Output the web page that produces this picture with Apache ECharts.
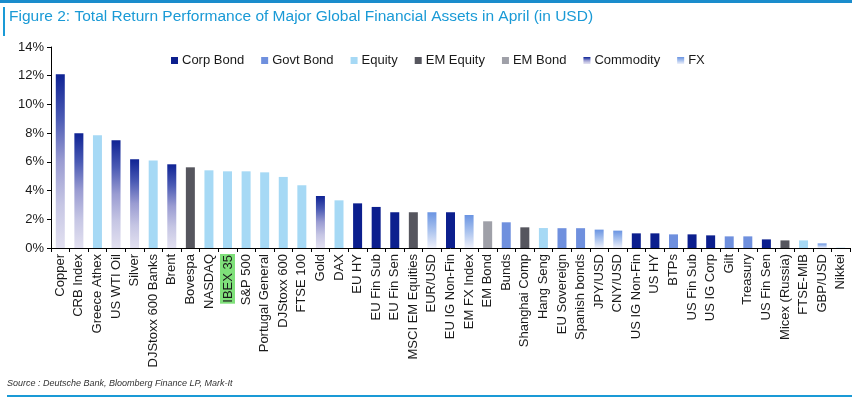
<!DOCTYPE html>
<html>
<head>
<meta charset="utf-8">
<script src="https://cdn.jsdelivr.net/npm/echarts@6/dist/echarts.min.js"></script>
<style>
html,body{margin:0;padding:0;background:#fff;}
#c{width:862px;height:399px;}
</style>
</head>
<body>
<div id="c"></div>
<script>
var titleText = 'Figure 2: Total Return Performance of Major Global Financial Assets in April (in USD)';
var sourceText = 'Source : Deutsche Bank, Bloomberg Finance LP, Mark-It';

var categories = ['Copper','CRB Index','Greece Athex','US WTI Oil','Silver','DJStoxx 600 Banks','Brent','Bovespa','NASDAQ','IBEX 35','S&P 500','Portugal General','DJStoxx 600','FTSE 100','Gold','DAX','EU HY','EU Fin Sub','EU Fin Sen','MSCI EM Equities','EUR/USD','EU IG Non-Fin','EM FX Index','EM Bond','Bunds','Shanghai Comp','Hang Seng','EU Sovereign','Spanish bonds','JPY/USD','CNY/USD','US IG Non-Fin','US HY','BTPs','US Fin Sub','US IG Corp','Gilt','Treasury','US Fin Sen','Micex (Russia)','FTSE-MIB','GBP/USD','Nikkei'];

var values = [12.1, 8.0, 7.85, 7.5, 6.18, 6.1, 5.83, 5.62, 5.41, 5.34, 5.34, 5.27, 4.95, 4.37, 3.62, 3.32, 3.11, 2.86, 2.49, 2.49, 2.49, 2.49, 2.30, 1.86, 1.79, 1.44, 1.39, 1.38, 1.38, 1.28, 1.21, 1.02, 1.02, 0.95, 0.95, 0.88, 0.81, 0.81, 0.60, 0.53, 0.53, 0.32, 0.02];

var assetTypes = ['Commodity','Commodity','Equity','Commodity','Commodity','Equity','Commodity','EM Equity','Equity','Equity','Equity','Equity','Equity','Equity','Commodity','Equity','Corp Bond','Corp Bond','Corp Bond','EM Equity','FX','Corp Bond','FX','EM Bond','Govt Bond','EM Equity','Equity','Govt Bond','Govt Bond','FX','FX','Corp Bond','Corp Bond','Govt Bond','Corp Bond','Corp Bond','Govt Bond','Govt Bond','Corp Bond','EM Equity','Equity','FX','Equity'];

var seriesNames = ['Corp Bond','Govt Bond','Equity','EM Equity','EM Bond','Commodity','FX'];

var yTicks = [0, 2, 4, 6, 8, 10, 12, 14];

var highlighted = 'IBEX 35';

function grad(stops){
  return {type:'linear', x:0, y:0, x2:0, y2:1, colorStops: stops.map(function(s){return {offset:s[0], color:s[1]};})};
}
var seriesColors = {
  'Corp Bond': '#0c1f8e',
  'Govt Bond': '#6f90de',
  'Equity': '#a6d9f5',
  'EM Equity': '#56565e',
  'EM Bond': '#9fa0a8',
  'Commodity': grad([[0,'#0f2394'],[0.25,'#4a5ab4'],[0.5,'#9a9cd2'],[0.75,'#c6c6e4'],[1,'#e2e0f0']]),
  'FX': grad([[0,'#6a94e2'],[0.5,'#a9c2ee'],[1,'#eef0fa']])
};

var series = seriesNames.map(function(name){
  return {
    name: name,
    type: 'bar',
    stack: 'all',
    barWidth: 9,
    itemStyle: {color: seriesColors[name]},
    data: values.map(function(v, i){ return assetTypes[i] === name ? v : '-'; })
  };
});

var chart = echarts.init(document.getElementById('c'), null, {renderer:'canvas'});
chart.setOption({
  animation: false,
  backgroundColor: '#ffffff',
  textStyle: {fontFamily: 'Liberation Sans, Arial, sans-serif'},
  grid: {left: 51, right: 12, top: 47, bottom: 151, containLabel: false},
  legend: {
    data: seriesNames,
    left: 166, top: 49,
    itemWidth: 7, itemHeight: 7, itemGap: 17,
    icon: 'rect',
    textStyle: {fontSize: 13, color: '#1a1a1a', padding: [0,0,0,-1]}
  },
  xAxis: {
    type: 'category',
    data: categories,
    axisLine: {lineStyle: {color: '#000', width: 1}},
    axisTick: {show: true, length: 4, lineStyle: {color: '#000'}},
    axisLabel: {
      interval: 0, rotate: 90, fontSize: 13, color: '#1a1a1a', margin: 6,
      formatter: function(v){ return v === highlighted ? '{hl|' + v + '}' : v; },
      rich: {hl: {backgroundColor: '#7fe07a', fontSize: 13, color: '#1a1a1a', padding: [2,1,0,1]}}
    }
  },
  yAxis: {
    type: 'value',
    min: yTicks[0], max: yTicks[yTicks.length-1], interval: 2,
    axisLine: {show: true, lineStyle: {color: '#000', width: 1}},
    axisTick: {show: true, length: 4, lineStyle: {color: '#000'}},
    splitLine: {show: false},
    axisLabel: {fontSize: 13, color: '#1a1a1a', margin: 7, formatter: '{value}%'}
  },
  graphic: [
    {type:'rect', left: 0, top: 0, shape:{width: 852, height: 3}, style:{fill:'#1a8ccc'}},
    {type:'rect', left: 3, top: 7, shape:{width: 2, height: 29}, style:{fill:'#1a9ad6'}},
    {type:'text', left: 9, top: 9, style:{text: titleText, fill:'#1a9ad6', font: '15.5px "Liberation Sans", Arial, sans-serif'}},
    {type:'text', left: 7, top: 379, style:{text: sourceText, fill:'#333', font: 'italic 9px "Liberation Sans", Arial, sans-serif'}},
    {type:'rect', left: 7, top: 395, shape:{width: 845, height: 2}, style:{fill:'#1a9ad6'}}
  ],
  series: series
});
</script>
</body>
</html>
